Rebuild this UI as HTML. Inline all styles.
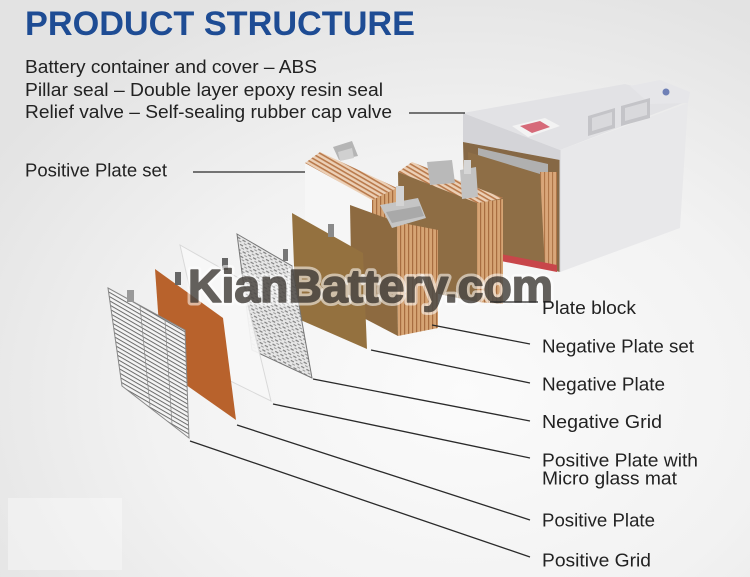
<!DOCTYPE html>
<html>
<head>
<meta charset="utf-8">
<style>
html,body{margin:0;padding:0;background:#eee;}
body{width:750px;height:577px;overflow:hidden;}
svg{display:block;}
</style>
</head>
<body>
<svg width="750" height="577" viewBox="0 0 750 577" xmlns="http://www.w3.org/2000/svg">
<defs>
  <radialGradient id="bg" cx="62%" cy="68%" r="75%">
    <stop offset="0" stop-color="#fbfbfb"/>
    <stop offset="0.55" stop-color="#f2f2f2"/>
    <stop offset="1" stop-color="#e3e3e3"/>
  </radialGradient>
  <pattern id="gridLines" width="3.6" height="3.6" patternUnits="userSpaceOnUse" patternTransform="rotate(30)">
    <rect width="3.6" height="3.6" fill="#f4f4f4"/>
    <rect y="0" width="3.6" height="1" fill="#6a6a6a"/>
  </pattern>
  <pattern id="hatch" width="6" height="5" patternUnits="userSpaceOnUse" patternTransform="rotate(30)">
    <rect width="6" height="5" fill="#e6e6e6"/>
    <rect x="0" y="1" width="3.5" height="1.2" fill="#808080"/>
    <rect x="3" y="3.5" width="3" height="1" fill="#9a9a9a"/>
  </pattern>
  <pattern id="copperDiag" width="4" height="4" patternUnits="userSpaceOnUse" patternTransform="rotate(30)">
    <rect width="4" height="4" fill="#ecd0b6"/>
    <rect y="0" width="4" height="1.6" fill="#b97a4c"/>
  </pattern>
  <pattern id="copperVert" width="4" height="4" patternUnits="userSpaceOnUse">
    <rect width="4" height="4" fill="#d6a474"/>
    <rect x="0" width="1.2" height="4" fill="#a86d40"/>
  </pattern>
  <pattern id="copperVert2" width="4" height="4" patternUnits="userSpaceOnUse">
    <rect width="4" height="4" fill="#d9a679"/>
    <rect x="0" width="1.1" height="4" fill="#b07648"/>
  </pattern>
</defs>

<!-- background -->
<rect width="750" height="577" fill="url(#bg)"/>
<rect x="8" y="498" width="114" height="72" fill="#ffffff" opacity="0.35"/>

<!-- ===== Battery box ===== -->
<polygon points="560,150 688,103 680,228 560,272" fill="#e8e8ea"/>
<polygon points="463,113 625,84 688,101 560,150" fill="#e2e2e5"/>
<polygon points="630,86 660,80 690,92 688,103 650,104" fill="#e6e6e9"/>
<polygon points="463,113 560,150 560,160 463,142" fill="#d4d4d8"/>
<!-- open end interior -->
<polygon points="463,142 560,160 560,272 466,250" fill="#866845"/>
<polygon points="478,148 548,164 548,176 478,160" fill="#b0b0b0"/>
<polygon points="468,152 540,174 545,268 471,250" fill="#8e6e46"/>
<polygon points="540,172 557,172 557,270 545,268" fill="url(#copperVert2)"/>
<polygon points="470,248 557,265 557,272 470,255" fill="#c8464a"/>
<!-- lid features -->
<polygon points="512,126 545,118 560,126 528,137" fill="#f3f3f3"/>
<polygon points="520,126 540,121 550,127 532,133" fill="#d66a79"/>
<polygon points="588,116 615,108 615,128 588,136" fill="#c4c4c8"/>
<polygon points="621,106 650,98 650,118 621,126" fill="#c4c4c8"/>
<polygon points="592,118 612,112 612,125 592,131" fill="#d9d9dc"/>
<polygon points="625,108 647,102 647,115 625,121" fill="#d9d9dc"/>
<circle cx="666" cy="92" r="3.5" fill="#6f80b6"/>
<line x1="560" y1="150" x2="560" y2="272" stroke="#d4d4d8" stroke-width="1"/>

<!-- ===== Plate block ===== -->
<polygon points="398,172 412,162 503,198 477,204" fill="url(#copperDiag)"/>
<polygon points="398,172 477,203 477,302 400,286" fill="#8e6d44"/>
<polygon points="477,203 503,199 503,304 477,302" fill="url(#copperVert)"/>
<polygon points="427,162 452,160 455,183 430,185" fill="#b9b9b9"/>
<polygon points="460,170 476,167 478,197 462,199" fill="#c2c2c2"/>
<rect x="464" y="160" width="7" height="14" fill="#d6d6d6"/>

<!-- ===== Positive plate set ===== -->
<polygon points="305,163 372,200 372,320 305,292" fill="#f6f6f6"/>
<polygon points="305,163 320,152 397,188 372,200" fill="url(#copperDiag)"/>
<polygon points="372,200 397,188 397,300 372,320" fill="url(#copperVert)"/>
<polygon points="333,147 352,141 358,156 339,160" fill="#b5b5b5"/>
<polygon points="338,152 352,148 354,158 340,161" fill="#d0d0d0"/>

<!-- ===== Negative plate set ===== -->
<polygon points="350,205 397,222 398,336 352,312" fill="#8d6a40"/>
<polygon points="397,222 438,230 438,328 398,336" fill="url(#copperVert)"/>
<polygon points="380,205 418,198 426,218 392,228" fill="#c5c5c5"/>
<rect x="396" y="186" width="8" height="20" fill="#d4d4d4"/>
<polygon points="386,212 420,206 424,216 392,223" fill="#a9a9a9"/>

<!-- ===== Negative plate ===== -->
<polygon points="292,213 363,253 367,349 296,318" fill="#94713f"/>
<rect x="328" y="224" width="6" height="13" fill="#8a8a8a"/>

<!-- ===== Negative grid ===== -->
<polygon points="237,234 292,266 312,378 252,350" fill="url(#hatch)"/>
<polygon points="237,234 292,266 312,378 252,350" fill="none" stroke="#777" stroke-width="1"/>
<rect x="283" y="249" width="5" height="12" fill="#777"/>

<!-- ===== White micro glass mat ===== -->
<polygon points="180,245 242,280 271,401 208,370" fill="#f7f7f7" opacity="0.94"/>
<polygon points="180,245 242,280 271,401 208,370" fill="none" stroke="#d9d9d9" stroke-width="1"/>
<rect x="222" y="258" width="6" height="12" fill="#666"/>

<!-- ===== Positive plate (orange) ===== -->
<polygon points="155,269 223,318 236,420 162,368" fill="#b8622c"/>
<rect x="175" y="272" width="6" height="13" fill="#666"/>

<!-- ===== Positive grid ===== -->
<polygon points="108,288 185,330 189,438 122,386" fill="url(#gridLines)"/>
<polygon points="108,288 185,330 189,438 122,386" fill="none" stroke="#888" stroke-width="1"/>
<line x1="140" y1="306" x2="150" y2="406" stroke="#888" stroke-width="0.7"/>
<line x1="165" y1="320" x2="172" y2="424" stroke="#888" stroke-width="0.7"/>
<rect x="127" y="290" width="7" height="12" fill="#999"/>

<!-- ===== Watermark ===== -->
<text x="188" y="302" font-family="Liberation Sans, sans-serif" font-weight="bold" font-size="46" textLength="365" lengthAdjust="spacingAndGlyphs" fill="none" stroke="rgba(255,255,255,0.55)" stroke-width="7" stroke-linejoin="round">KianBattery.com</text>
<g opacity="0.72">
<text x="188" y="302" font-family="Liberation Sans, sans-serif" font-weight="bold" font-size="46" textLength="365" lengthAdjust="spacingAndGlyphs" fill="#2a2520" stroke="#2a2520" stroke-width="1.6" stroke-linejoin="round">KianBattery.com</text>
</g>

<!-- ===== Leader lines ===== -->
<g stroke="#2a2a2a" stroke-width="1.3" fill="none">
  <line x1="409" y1="113" x2="465" y2="113"/>
  <line x1="193" y1="172" x2="305" y2="172"/>
  <line x1="490" y1="302" x2="538" y2="302"/>
  <line x1="432" y1="325" x2="530" y2="344"/>
  <line x1="371" y1="350" x2="530" y2="383"/>
  <line x1="313" y1="379" x2="530" y2="421"/>
  <line x1="273" y1="404" x2="530" y2="458"/>
  <line x1="237" y1="425" x2="530" y2="520"/>
  <line x1="190" y1="441" x2="530" y2="557"/>
</g>

<!-- ===== Text ===== -->
<text x="25" y="35" font-family="Liberation Sans, sans-serif" font-weight="bold" font-size="34" fill="#1e4c94" textLength="390" lengthAdjust="spacingAndGlyphs">PRODUCT STRUCTURE</text>
<g font-family="Liberation Sans, sans-serif" font-size="18.5" fill="#222">
  <text x="25" y="73" textLength="292" lengthAdjust="spacingAndGlyphs">Battery container and cover – ABS</text>
  <text x="25" y="96" textLength="358" lengthAdjust="spacingAndGlyphs">Pillar seal – Double layer epoxy resin seal</text>
  <text x="25" y="118" textLength="367" lengthAdjust="spacingAndGlyphs">Relief valve – Self-sealing rubber cap valve</text>
  <text x="25" y="176.5" textLength="142" lengthAdjust="spacingAndGlyphs">Positive Plate set</text>

  <text x="542" y="314" textLength="94" lengthAdjust="spacingAndGlyphs">Plate block</text>
  <text x="542" y="352.5" textLength="152" lengthAdjust="spacingAndGlyphs">Negative Plate set</text>
  <text x="542" y="390.5" textLength="123" lengthAdjust="spacingAndGlyphs">Negative Plate</text>
  <text x="542" y="428" textLength="120" lengthAdjust="spacingAndGlyphs">Negative Grid</text>
  <text x="542" y="466.5" textLength="156" lengthAdjust="spacingAndGlyphs">Positive Plate with</text>
  <text x="542" y="484.5" textLength="135" lengthAdjust="spacingAndGlyphs">Micro glass mat</text>
  <text x="542" y="526.5" textLength="113" lengthAdjust="spacingAndGlyphs">Positive Plate</text>
  <text x="542" y="566.5" textLength="109" lengthAdjust="spacingAndGlyphs">Positive Grid</text>
</g>
</svg>
</body>
</html>
